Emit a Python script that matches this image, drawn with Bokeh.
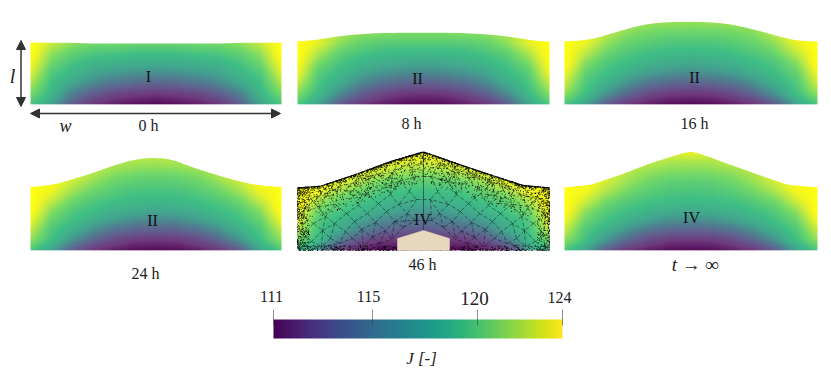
import numpy as np
from bokeh.core.properties import value
from bokeh.embed import file_html
from bokeh.models import Arrow, ColumnDataSource, LinearColorMapper, NormalHead
from bokeh.palettes import Viridis256
from bokeh.plotting import figure
from bokeh.resources import INLINE

# Colour bar
J_LOW, J_HIGH = 111, 124
cbar_tick_labels = ["111", "115", "120", "124"]
cbar_tick_x = [273, 372, 477, 562]
cbar_label_x = [271, 368, 474, 559]
cbar_label_y = [296, 296, 298, 297]
cbar_label_size = ["16px", "16px", "19px", "16px"]

# Palette stops of the panels (J value, colour)
stop_J = [111, 113, 115, 116.5, 118, 119.5, 121, 122.3, 123.3, 124]
stop_col = ["#560a5c", "#6e3a7c", "#625e8e", "#4f7f90", "#42a58e", "#3fbe85", "#72d868", "#bde945", "#f0f520", "#ffff10"]

# Extent of panels (x0, x1, y_top_of_field, y_bottom)
ext_0h = (30, 281, 42, 104)
ext_8h = (297, 549, 32, 104)
ext_16h = (564, 817, 21, 104)
ext_24h = (30, 281, 157, 250)
ext_46h = (297, 549, 151, 250)
ext_inf = (564, 817, 151, 250)

# Top boundary, (x, y)
top_0h_x = [30, 64, 91, 150, 220, 247, 281]
top_0h_y = [42, 42, 43, 43, 43, 42, 42]
top_8h_x = [297, 317, 340, 373, 400, 450, 490, 517, 537, 549]
top_8h_y = [41, 39.3, 35.3, 32.7, 32, 32, 34, 37.3, 40.7, 41.3]
top_16h_x = [564, 590, 610, 627, 643, 660, 690, 720, 740, 760, 787, 800, 817]
top_16h_y = [41, 39.3, 33.3, 28.3, 24, 22, 21, 22.3, 25.7, 30.7, 38.3, 40.7, 41]
top_24h_x = [30, 53, 87, 120, 140, 153, 170, 193, 227, 253, 281]
top_24h_y = [186.7, 184.3, 174.3, 162.7, 158, 157.3, 158.3, 167.3, 177.7, 184.3, 186.7]
top_46h_x = [297, 320, 357, 390, 423, 457, 490, 523, 549]
top_46h_y = [187.3, 185.7, 173.3, 161, 151.3, 163.3, 174.3, 185, 187.3]
top_inf_x = [564, 590, 620, 650, 680, 690, 700, 730, 760, 787, 817]
top_inf_y = [187, 184.3, 174.3, 162.7, 153.3, 151, 153.3, 164.3, 175, 184.3, 187]

# J values: rows top to bottom, columns wall to mid-width
J_0h = [
    [124, 122.5, 121.5, 121, 121, 120.8, 120.8],
    [124, 121.5, 120.5, 120, 119.8, 119.6, 119.5],
    [123.5, 120.8, 119.7, 119, 118.7, 118.5, 118.4],
    [122.8, 120, 119, 118, 117.5, 117.2, 117],
    [122, 119.5, 118, 116.8, 116, 115.5, 115.3],
    [121, 119, 116.5, 115, 113.8, 113.3, 113],
    [120, 118, 115, 113, 112, 111.3, 111],
]
J_8h = [
    [124, 123, 122, 121.5, 121.3, 121.2, 121.2],
    [124, 123, 121.5, 120.6, 120.3, 120.2, 120.2],
    [124, 122, 120.5, 119.8, 119.4, 119.2, 119.2],
    [123.7, 121, 119.8, 119, 118.5, 118.2, 118],
    [123.2, 120.2, 119.2, 118, 117.3, 116.9, 116.7],
    [122.3, 119.8, 118.3, 116.8, 115.8, 115.3, 115],
    [121.3, 119.2, 117, 115.2, 113.8, 113, 112.8],
    [120, 118, 115, 113, 112, 111.2, 111],
]
J_16h = [
    [123, 122.6, 122.3, 122, 121.8, 121.7, 121.6],
    [124, 123.5, 122.3, 121.4, 121, 120.8, 120.8],
    [124, 123.2, 121.6, 120.7, 120.3, 120, 120],
    [124, 122.3, 120.8, 120, 119.6, 119.3, 119.2],
    [124, 121.3, 120, 119.4, 118.8, 118.4, 118.2],
    [123.3, 120.5, 119.5, 118.5, 117.7, 117.2, 117],
    [122.5, 120, 118.6, 117.2, 116, 115.5, 115.2],
    [121.5, 119.5, 117.3, 115.5, 114, 113.2, 113],
    [120, 118, 115, 113, 112, 111.2, 111],
]
J_24h = [
    [124, 123.5, 123, 122.5, 122.3, 122.2, 122.2],
    [124, 123.7, 123, 122.3, 121.8, 121.5, 121.4],
    [124, 123.7, 122.7, 121.8, 121, 120.6, 120.5],
    [124, 123.4, 122, 121, 120.3, 120, 119.9],
    [124, 122.6, 121, 120.2, 119.7, 119.4, 119.3],
    [124, 121.5, 120.2, 119.5, 118.9, 118.5, 118.3],
    [123.3, 120.7, 119.6, 118.6, 117.8, 117.2, 117],
    [122.4, 120, 118.7, 117.2, 116, 115.4, 115.2],
    [121.5, 119.5, 117.3, 115.5, 114, 113.2, 113],
    [120, 118, 115, 113, 112, 111.2, 111],
]
J_46h = [
    [124, 124, 124, 124, 124, 124, 123.5],
    [124, 124, 124, 124, 123.5, 123, 122.8],
    [124, 124, 124, 123.3, 122.5, 121.8, 121.5],
    [124, 124, 123.2, 122, 121, 120.6, 120.4],
    [124, 123.3, 121.8, 120.8, 120, 119.6, 119.5],
    [124, 122, 120.5, 119.8, 119.2, 118.8, 118.6],
    [123.6, 120.8, 119.8, 119, 118.3, 117.8, 117.5],
    [123, 120, 119, 117.9, 117, 116.5, 116.2],
    [122.2, 119.6, 118.2, 116.6, 115.5, 115, 114.8],
    [121, 119, 116.5, 114.5, 113.3, 112.8, 112.6],
    [119.5, 117.3, 113.5, 112, 111, 111, 111],
]
J_inf = [
    [124, 124, 124, 123.5, 123.2, 123.1, 123.2],
    [124, 124, 123.5, 122.9, 122.4, 122, 121.9],
    [124, 123.8, 123, 122.2, 121.6, 121.3, 121.2],
    [124, 123.7, 122.7, 121.7, 120.9, 120.5, 120.4],
    [124, 123.4, 122, 121, 120.3, 120, 119.9],
    [124, 122.6, 121, 120.2, 119.7, 119.4, 119.3],
    [124, 121.5, 120.2, 119.5, 118.9, 118.5, 118.3],
    [123.3, 120.7, 119.6, 118.6, 117.8, 117.2, 117],
    [122.4, 120, 118.7, 117.2, 116, 115.4, 115.2],
    [121.5, 119.5, 117.3, 115.5, 114, 113.2, 113],
    [120, 118, 115, 113, 112, 111.2, 111],
]

# Mesh of the 46 h panel: nodes of the left half
mesh_nodes = [
    (310, 198), (327, 194), (338, 186), (355, 182), (370, 175), (392, 172), (408, 163),
    (301, 214), (318, 206), (335, 204), (352, 195), (366, 193), (384, 184), (399, 181), (415, 176),
    (313, 223), (325, 216), (346, 213), (358, 205), (378, 203), (390, 194), (409, 191),
    (303, 233), (322, 230), (334, 223), (354, 221), (367, 213), (386, 211), (398, 204), (416, 199),
    (311, 241), (330, 238), (345, 231), (361, 229), (375, 222), (394, 221), (407, 213),
    (302, 246), (321, 246), (339, 243), (352, 238), (372, 237), (385, 230), (403, 227), (415, 220),
    (363, 246), (379, 243), (391, 239),
]
inclusion_x = [397, 397, 423, 449, 449]
inclusion_y = [250, 238, 230, 238, 250]

# Texts
panel_text = ["I", "II", "II", "II", "IV", "IV"]
panel_text_x = [148, 417, 694, 152, 422, 691]
panel_text_y = [76, 78, 77, 220, 219, 217]
time_text = ["0 h", "8 h", "16 h", "24 h", "46 h"]
time_text_x = [148, 411, 694, 145, 422]
time_text_y = [125, 123, 123, 273, 264]

p = figure(width=823, height=369, x_range=(0, 823), y_range=(369, 0),
           toolbar_location=None, output_backend="svg", min_border=0)
p.axis.visible = False
p.grid.visible = False
p.outline_line_color = None
p.background_fill_color = "white"
p.border_fill_color = "white"

stop_rgb = np.array([[int(c[i:i + 2], 16) for i in (1, 3, 5)] for c in stop_col], float)
levels = np.linspace(J_LOW, J_HIGH, 256)
panel_palette = ["#%02x%02x%02x" % tuple(int(round(np.interp(v, stop_J, stop_rgb[:, k]))) for k in range(3))
                 for v in levels]
panel_mapper = LinearColorMapper(palette=panel_palette, low=J_LOW, high=J_HIGH)
bar_mapper = LinearColorMapper(palette=Viridis256, low=J_LOW, high=J_HIGH)


def resample(table, w, h):
    """Display resampling of a read-off table to about one image cell per pixel."""
    t = np.array(table, float)
    rows = np.linspace(0, t.shape[0] - 1, int(h))
    cols = np.linspace(0, t.shape[1] - 1, int(w))
    a = np.array([np.interp(rows, np.arange(t.shape[0]), t[:, j]) for j in range(t.shape[1])]).T
    return np.array([np.interp(cols, np.arange(t.shape[1]), r) for r in a])


def boundary(tx, ty, win):
    """Rounds the read-off boundary corners for display."""
    xs = np.arange(tx[0], tx[-1] + 1.0)
    ys = np.interp(xs, tx, ty)
    if win > 1:
        pad = np.r_[[ys[0]] * win, ys, [ys[-1]] * win]
        ys = np.convolve(pad, np.ones(win) / win, mode="same")[win:-win]
    return xs, ys


def add_panel(J, ext, tx, ty, win):
    x0, x1, y0, y1 = ext
    half = np.array(J, float)
    full = np.hstack([half, half[:, -2::-1]])
    p.image(image=[resample(full, x1 - x0, y1 - y0)], x=x0, y=y0, dw=x1 - x0, dh=y1 - y0, color_mapper=panel_mapper)
    cx, cy = boundary(tx, ty, win)
    xs = np.r_[x0 - 1, cx, x1 + 1]
    ys = np.r_[cy[0], cy, cy[-1]]
    p.varea(x=xs, y1=ys, y2=[y0 - 6] * len(xs), fill_color="white")
    p.line(x=[x0, x1], y=[y1 + 0.3, y1 + 0.3], line_color="white", line_alpha=0.45, line_width=1)


add_panel(J_0h, ext_0h, top_0h_x, top_0h_y, 1)
add_panel(J_8h, ext_8h, top_8h_x, top_8h_y, 25)
add_panel(J_16h, ext_16h, top_16h_x, top_16h_y, 25)
add_panel(J_24h, ext_24h, top_24h_x, top_24h_y, 21)
add_panel(J_46h, ext_46h, top_46h_x, top_46h_y, 5)
add_panel(J_inf, ext_inf, top_inf_x, top_inf_y, 9)

# Mesh
xm = 423
nodes = np.array(mesh_nodes + [(2 * xm - a, b) for a, b in mesh_nodes], float)
d = np.hypot(nodes[:, 0, None] - nodes[:, 0], nodes[:, 1, None] - nodes[:, 1])
seg = set()
for i in range(len(nodes)):
    for j in np.argsort(d[i])[1:5]:
        if d[i, j] < 24:
            seg.add((min(i, int(j)), max(i, int(j))))
seg = sorted(seg)
p.segment(x0=[nodes[a, 0] for a, b in seg], y0=[nodes[a, 1] for a, b in seg],
          x1=[nodes[b, 0] for a, b in seg], y1=[nodes[b, 1] for a, b in seg],
          line_color="black", line_alpha=0.6, line_width=0.7, line_dash="4 2")
p.line(x=[xm, xm], y=[152, 230], line_color="#102030", line_alpha=0.55, line_width=1)


# Refined mesh nodes: deterministic hash fill that crowds against the boundary
def frac_hash(n, a, b):
    return (np.sin(np.arange(1, n + 1) * a) * b) % 1


x0, x1, _, yb = ext_46h
w = x1 - x0
bnd_x, bnd_y = boundary(top_46h_x, top_46h_y, 5)
u = frac_hash(2400, 12.9898, 43758.5453)
v = frac_hash(2400, 78.233, 24634.6345)
sx = x0 + u * w
sy = np.interp(sx, bnd_x, bnd_y) + 30 * v ** 3
u2 = frac_hash(600, 39.346, 11313.137)
v2 = frac_hash(600, 53.113, 31415.927)
t2 = frac_hash(600, 93.989, 27182.818)
bx = x0 + u2 * w
by = yb - 5 * v2 ** 2
cx = np.where(u2 < 0.5, x0 + 12 * v2 ** 2, x1 - 12 * v2 ** 2)
cy = 188 + 60 * t2
p.scatter(x=np.concatenate([sx, bx, cx]), y=np.concatenate([sy, by, cy]), size=1.1, marker="circle",
          fill_color="black", line_color=None, fill_alpha=0.8)
p.line(x=bnd_x, y=bnd_y, line_color="black", line_width=0.9)
p.patch(x=inclusion_x, y=inclusion_y, fill_color="#e6d9bd", line_color="#e6d9bd", line_width=0.5)

# Colour bar
p.image(image=[np.linspace(J_LOW, J_HIGH, 256)[None, :]], x=273, y=319, dw=289, dh=19, color_mapper=bar_mapper)
p.segment(x0=cbar_tick_x, x1=cbar_tick_x, y0=[309] * 4, y1=[325] * 4, line_color="#444444", line_alpha=0.6, line_width=1)


def add_text(texts, xs, ys, size, style="normal", color="#222222"):
    src = ColumnDataSource(dict(t=texts, x=xs, y=ys, s=size if isinstance(size, list) else [size] * len(texts)))
    p.text(x="x", y="y", text="t", source=src, text_font=value("Liberation Serif"), text_font_size="s",
           text_font_style=style, text_align="center", text_baseline="middle", text_color=color)


add_text(panel_text, panel_text_x, panel_text_y, "16px", color="#111111")
add_text(time_text, time_text_x, time_text_y, "16px")
add_text(cbar_tick_labels, cbar_label_x, cbar_label_y, cbar_label_size)
add_text(["t → ∞"], [695], [264], "19px", "italic")
add_text(["J [-]"], [421], [358], "17px", "italic")
add_text(["l"], [12], [75], "20px", "italic")
add_text(["w"], [65], [125], "18px", "italic")

# Dimension arrows
for xa, ya, xb, yb2 in [(20.5, 40, 20.5, 106), (30, 113, 280, 113)]:
    p.add_layout(Arrow(start=NormalHead(size=9, fill_color="#333333", line_color="#333333"),
                       end=NormalHead(size=9, fill_color="#333333", line_color="#333333"),
                       x_start=xa, y_start=ya, x_end=xb, y_end=yb2, line_color="#333333", line_width=1.5))

open("out.html", "w").write(file_html(p, INLINE))
